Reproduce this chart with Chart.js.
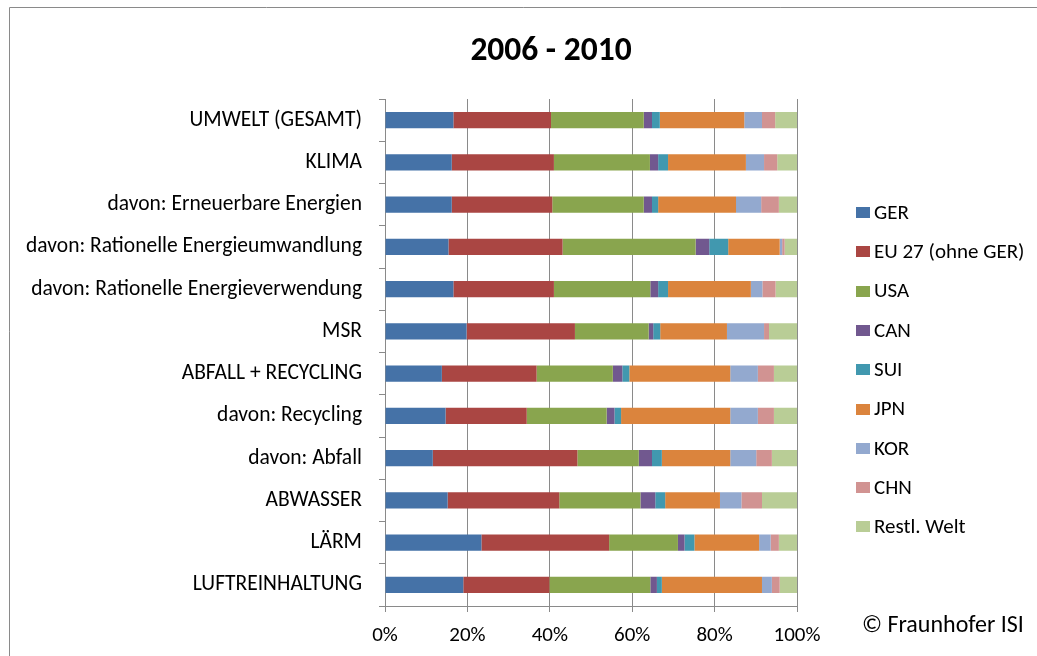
<!DOCTYPE html>
<html>
<head>
<meta charset="utf-8">
<script src="https://cdn.jsdelivr.net/npm/chart.js@4/dist/chart.umd.min.js"></script>
<style>
  body { margin: 0; background: #fff; }
  canvas { display: block; }
</style>
</head>
<body>
<canvas id="chart_technology" width="1037" height="656"></canvas>
<script>
// Categories (top to bottom)
let categories = [
  "UMWELT (GESAMT)",
  "KLIMA",
  "davon: Erneuerbare Energien",
  "davon: Rationelle Energieumwandlung",
  "davon: Rationelle Energieverwendung",
  "MSR",
  "ABFALL + RECYCLING",
  "davon: Recycling",
  "davon: Abfall",
  "ABWASSER",
  "LÄRM",
  "LUFTREINHALTUNG"
];

// Shares in percent, one array per country group
let ger  = [16.6, 16.2, 16.2, 15.4, 16.6, 19.8, 13.8, 14.7, 11.6, 15.2, 23.4, 19.0];
let eu27 = [23.7, 24.8, 24.4, 27.7, 24.4, 26.3, 23.0, 19.7, 35.1, 27.1, 31.0, 20.9];
let usa  = [22.5, 23.3, 22.2, 32.3, 23.4, 17.9, 18.5, 19.4, 14.9, 19.7, 16.7, 24.5];
let can  = [2.0, 2.0, 2.0, 3.3, 1.9, 1.1, 2.3, 1.9, 3.2, 3.6, 1.6, 1.6];
let sui  = [1.9, 2.4, 1.5, 4.6, 2.4, 1.7, 1.7, 1.6, 2.4, 2.4, 2.4, 1.2];
let jpn  = [20.5, 18.9, 18.9, 12.5, 20.1, 16.2, 24.5, 26.5, 16.6, 13.3, 15.7, 24.3];
let kor  = [4.3, 4.4, 6.1, 0.6, 2.8, 9.0, 6.7, 6.7, 6.3, 5.2, 2.8, 2.4];
let chn  = [3.2, 3.2, 4.3, 0.6, 3.2, 1.2, 3.9, 3.9, 3.8, 5.0, 2.0, 1.9];
let rest = [5.3, 4.8, 4.4, 3.0, 5.2, 6.8, 5.6, 5.6, 6.1, 8.5, 4.4, 4.2];

// Series names for the legend
let seriesNames = ["GER", "EU 27 (ohne GER)", "USA", "CAN", "SUI", "JPN", "KOR", "CHN", "Restl. Welt"];

// Axis ticks
let xTicks = [0, 20, 40, 60, 80, 100];

let chartTitle = "2006 - 2010";
let copyright = "\u00A9 Fraunhofer ISI";

let colors = ["#4572A7", "#AA4643", "#89A54E", "#71588F", "#4198AF", "#DB843D", "#93A9CF", "#D19392", "#B9CD96"];
let FONT = "Carlito, Lato, sans-serif";
let GRID = "#8a8a8a";

let seriesValues = [ger, eu27, usa, can, sui, jpn, kor, chn, rest];

let data = {
  labels: categories,
  datasets: seriesValues.map((values, i) => ({
    label: seriesNames[i],
    data: values,
    backgroundColor: colors[i],
    borderWidth: 0,
    barPercentage: 0.385,
    categoryPercentage: 1
  }))
};

// Title, legend, copyright and the frame, drawn Excel-style
let decorPlugin = {
  id: "decor",
  afterDraw(chart) {
    let ctx = chart.ctx;
    ctx.save();

    // frame
    ctx.strokeStyle = GRID;
    ctx.lineWidth = 1;
    ctx.beginPath();
    ctx.moveTo(9.5, 656);
    ctx.lineTo(9.5, 7.5);
    ctx.lineTo(1037, 7.5);
    ctx.stroke();

    // title
    ctx.fillStyle = "#000";
    ctx.font = "bold 33.5px " + FONT;
    ctx.textAlign = "center";
    ctx.textBaseline = "middle";
    ctx.fillText(chartTitle, 551, 52);

    // legend
    ctx.font = "21px " + FONT;
    ctx.textAlign = "left";
    chart.data.datasets.forEach((ds, i) => {
      let y = 212.5 + i * 39.3;
      ctx.fillStyle = ds.backgroundColor;
      ctx.fillRect(856, Math.round(y - 5.5), 14, 11);
      ctx.fillStyle = "#000";
      ctx.fillText(ds.label, 874, y + 1);
    });

    // copyright
    ctx.font = "24px " + FONT;
    ctx.fillText(copyright, 862, 626);

    ctx.restore();
  }
};

window.onload = () => {
  let ctx = document.getElementById("chart_technology").getContext("2d");

  let chart = new Chart(ctx, {
    type: "bar",
    data: data,
    plugins: [decorPlugin],
    options: {
      indexAxis: "y",
      responsive: false,
      animation: false,
      layout: { padding: { left: 0, right: 240, top: 99, bottom: 0 } },
      plugins: {
        legend: { display: false },
        title: { display: false },
        tooltip: { enabled: false }
      },
      scales: {
        x: {
          stacked: true,
          min: 0,
          max: 100,
          afterFit: (scale) => { scale.height = 50; },
          afterBuildTicks: (scale) => { scale.ticks = xTicks.map((v) => ({ value: v })); },
          ticks: {
            padding: 11,
            color: "#000",
            font: { family: FONT, size: 21 },
            callback: (v) => v + "%"
          },
          grid: { color: GRID, tickLength: 6, drawTicks: true },
          border: { color: GRID }
        },
        y: {
          stacked: true,
          afterFit: (scale) => { scale.width = 385; },
          ticks: {
            padding: 17,
            color: "#000",
            font: { family: FONT, size: 21.5 }
          },
          grid: { offset: true, drawOnChartArea: false, color: GRID, tickLength: 6 },
          border: { color: GRID }
        }
      }
    }
  });
};
</script>
</body>
</html>
